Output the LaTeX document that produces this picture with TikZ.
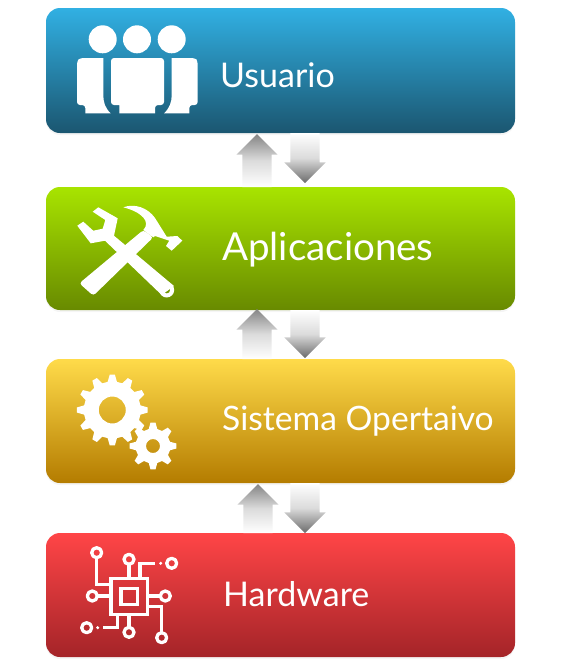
\documentclass[tikz,border=0pt]{standalone}
\usepackage{fontspec}
\setmainfont{Lato}
\usetikzlibrary{shapes.arrows, shadows}
\definecolor{bluetop}{HTML}{31B0E3}
\definecolor{bluebot}{HTML}{1B5670}
\definecolor{greentop}{HTML}{A8E400}
\definecolor{greenbot}{HTML}{688A00}
\definecolor{yellowtop}{HTML}{FFDB4A}
\definecolor{yellowbot}{HTML}{B47C00}
\definecolor{redtop}{HTML}{FF4547}
\definecolor{redbot}{HTML}{A42428}
\tikzset{
	layerbox/.style={rectangle, rounded corners=14pt, minimum width=469pt, inner sep=0pt, outer sep=0pt, drop shadow={shadow xshift=0pt, shadow yshift=-2pt, opacity=0.08}},
	layerlabel/.style={anchor=west, text=white, inner sep=0pt},
	uparrow/.style={single arrow, single arrow head extend=6pt, single arrow tip angle=90, minimum width=41pt, inner xsep=0pt, inner ysep=14.5pt, outer sep=0pt, rotate=90, anchor=tip, top color=black!48, bottom color=white, middle color=black!14},
	downarrow/.style={single arrow, single arrow head extend=6pt, single arrow tip angle=90, minimum width=41pt, inner xsep=0pt, inner ysep=14.5pt, outer sep=0pt, rotate=-90, anchor=tip, top color=white, bottom color=black!58, middle color=black!14},
	chipline/.style={draw=white, line width=3.3pt, line cap=butt, line join=miter},
	chipring/.style={draw=white, line width=3.3pt, fill=none}
}
\newcommand{\gearicon}[6]{
	\fill [white, even odd rule] ({#1 + #3 * cos(-90 / #5 * 0.55)}, {#2 + #3 * sin(-90 / #5 * 0.55)})
		\foreach \k [evaluate=\k as \t using (\k - 1) * 360 / #5] in {1, ..., #5} {
			-- ({#1 + #3 * cos(\t - 90 / #5 * 0.55)}, {#2 + #3 * sin(\t - 90 / #5 * 0.55)})
			-- ({#1 + #3 * cos(\t + 90 / #5 * 0.55)}, {#2 + #3 * sin(\t + 90 / #5 * 0.55)})
			-- ({#1 + #4 * cos(\t + 90 / #5 * 1.25)}, {#2 + #4 * sin(\t + 90 / #5 * 1.25)})
			-- ({#1 + #4 * cos(\t + 90 / #5 * 2.75)}, {#2 + #4 * sin(\t + 90 / #5 * 2.75)})
		} -- cycle (#1, #2) circle (#6);
}
\begin{document}
\begin{tikzpicture}[x=1pt, y=-1pt, line cap=round, line join=round]
	\useasboundingbox (0, 0) rectangle (561, 670);
	% Layer boxes
	\foreach \a/\b/\c/\d [count=\x] in {70.5/125/bluetop/bluebot, 248.5/123/greentop/greenbot, 421/124/yellowtop/yellowbot, 595/124/redtop/redbot}
		\node [layerbox, minimum height=\b pt, top color=\c, bottom color=\d] (box-\x) at (280.5, \a) {};
	% Layer labels
	\node [layerlabel, font=\fontsize{34}{36}\selectfont] (label-1) at (220, 75) {Usuario};
	\node [layerlabel, font=\fontsize{38.5}{40}\selectfont] (label-2) at (222, 250) {Aplicaciones};
	\node [layerlabel, font=\fontsize{33.6}{36}\selectfont] (label-3) at (222, 421) {Sistema Opertaivo};
	\node [layerlabel, font=\fontsize{34}{36}\selectfont] (label-4) at (223, 594) {Hardware};
	% Up arrows
	\foreach \a/\b/\c [count=\x] in {257/134/53, 257/309/50, 258/484/49}
		\node [uparrow, minimum height=\c pt] (up-\x) at (\a, \b) {};
	% Down arrows
	\foreach \a/\b/\c [count=\x] in {305/183/50, 305/358/48, 305/533/50}
		\node [downarrow, minimum height=\c pt] (down-\x) at (\a, \b) {};
	% People icon
	\foreach \a in {102.7, 137, 171.7}
		\fill [white] (\a, 39.3) circle (14);
	\fill [white, rounded corners=3pt] (111, 58) -- (164, 58) -- (164, 105) -- (155, 105) [sharp corners] -- (155, 113.3) -- (119.3, 113.3) -- (119.3, 105) [rounded corners=3pt] -- (111, 105) -- cycle;
	\fill [white, rounded corners=3pt] (103.3, 58) -- (80, 58) -- (77, 61) -- (77, 105) -- (85.3, 105) [sharp corners] -- (85.3, 113.3) -- (110.7, 113.3) .. controls (105, 108) and (103.3, 102) .. (103.3, 95) -- cycle;
	\fill [white, rounded corners=3pt] (171.7, 58) -- (195, 58) -- (197.7, 61) -- (197.7, 105) -- (189.3, 105) [sharp corners] -- (189.3, 113.3) -- (164, 113.3) .. controls (169.7, 108) and (171.7, 102) .. (171.7, 95) -- cycle;
	% Tools icon
	\fill [white] (77.3, 225.7) -- (83.3, 221.7) -- (93.3, 230.7) -- (102.7, 228.7) -- (105.3, 220) -- (92.7, 211.7) -- (98.3, 207.3) -- (117.7, 218.3) -- (114, 235.7) -- (174, 286) -- (161.7, 295) -- (105, 240.7) -- (90.7, 243.3) -- cycle;
	\fill [white, rounded corners=3pt] (143.3, 230) -- (79.3, 283.3) -- (93.3, 295.7) -- (153.3, 237.3) -- cycle;
	\fill [white] (123.3, 207.3) .. controls (135, 203) and (148, 208) .. (155, 218) -- (166.7, 236.7) -- (177.3, 236) -- (182.3, 240.7) -- (171.7, 250.7) -- (166, 246) -- (169.3, 240.7) -- (155, 236) -- (153.3, 237.3) -- (143.3, 230) .. controls (151, 222) and (142, 212) .. (123.3, 207.3) -- cycle;
	\fill [white, even odd rule] (166.7, 290) circle (7.5) (166.7, 290) circle (3.5);
	% Gears icon
	\gearicon{112.3}{410}{35.5}{28.5}{12}{13.5}
	\gearicon{153}{446}{23.5}{17.5}{8}{7}
	% Chip icon
	\draw [chipline] (111, 578.3) rectangle (147.7, 614.3);
	\draw [chipline] (121, 588.3) rectangle (137.7, 604.3);
	\foreach \a/\b in {96.7/552.7, 129/559.3, 171.7/563.3, 92.3/596, 165.3/596, 86.7/627.7, 129/632.3, 161.7/637.7}
		\draw [chipring] (\a, \b) circle (5);
	\draw [chipline] (96.7, 558) -- (96.7, 584.3) -- (111, 584.3);
	\draw [chipline] (129, 565) -- (129, 578.3);
	\draw [chipline] (140, 578.3) -- (140, 563.3) -- (155, 563.3);
	\draw [chipline] (97.5, 596) -- (111, 596);
	\draw [chipline] (147.7, 596) -- (160, 596);
	\draw [chipline] (103.3, 627.7) -- (117.7, 627.7) -- (117.7, 614.3);
	\draw [chipline] (129, 614.3) -- (129, 627);
	\draw [chipline] (147.7, 606.7) -- (161.7, 606.7) -- (161.7, 632.5);
	\fill [white] (160.7, 563.3) circle (1.7);
	\fill [white] (97.7, 627.7) circle (1.7);
\end{tikzpicture}
\end{document}
